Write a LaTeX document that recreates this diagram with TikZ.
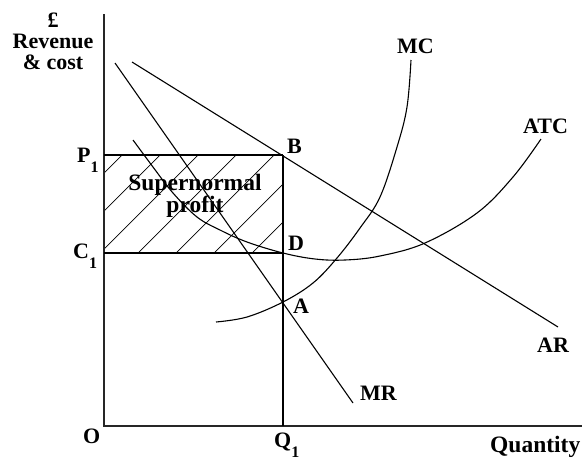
\documentclass[tikz,border=0pt]{standalone}
\usepackage{fontspec}
\setmainfont{Liberation Serif}
\usetikzlibrary{positioning}
\newcommand{\lowsub}[1]{\raisebox{-10pt}{\fontsize{16}{16}\selectfont #1}}

\begin{document}
\begin{tikzpicture}[
    x=1pt, y=-1pt,
    lbl/.style={font=\fontsize{22}{22}\selectfont\bfseries, inner sep=0pt, anchor=base west},
    ttl/.style={font=\fontsize{22}{22}\selectfont\bfseries, inner sep=0pt, anchor=base},
    wide/.style={font=\fontsize{23.5}{23.5}\selectfont\bfseries},
    axis/.style={line width=1.6pt, black!85},
    guide/.style={line width=1.3pt},
    curve/.style={line width=1.1pt},
    hatch/.style={line width=0.7pt},
]
    \useasboundingbox (0,0) rectangle (582,459);

    % Key points
    \coordinate (O) at (104,426);
    \coordinate (ytop) at (104,14);
    \coordinate (xend) at (582,426);
    \coordinate (P1) at (104,155);
    \coordinate (C1) at (104,253);
    \coordinate (B) at (283,155);
    \coordinate (D) at (283,253);
    \coordinate (Q1) at (283,426);

    % Supernormal profit hatching
    \begin{scope}
        \clip (P1) rectangle (D);
        \foreach \c in {277,315,...,505}
            \draw[hatch] ({\c-140},140) -- ({\c-270},270);
    \end{scope}

    % Axes
    \draw[axis] (ytop) -- (O) -- (xend);

    % Price, cost and output lines
    \draw[guide] (P1) -- (B);
    \draw[guide] (C1) -- (D);
    \draw[guide] (B) -- (Q1);

    % AR and MR
    \coordinate (ARstart) at (132,62);
    \coordinate (ARend) at (558,327);
    \coordinate (MRstart) at (115,63);
    \coordinate (MRend) at (353,403);
    \draw[curve] (ARstart) -- (ARend);
    \draw[curve] (MRstart) -- (MRend);

    % MC
    \draw[curve] plot[smooth, tension=0.6] coordinates {(216,322) (247,317) (283,302) (313,283) (337,258) (360,228) (380,197) (397,147) (407,107) (411,60)};

    % ATC
    \draw[curve] plot[smooth, tension=0.6] coordinates {(133,140) (153,167) (173,193) (197,217) (220,230) (247,242) (283,253) (315,259) (345,260) (380,256) (425,243) (477,213) (513,177) (541,139)};

    % Axis titles
    \node[ttl] (pound) at (53,27) {£};
    \node[ttl] (revenue) at (53,48) {Revenue};
    \node[ttl] (cost) at (53,69) {\& cost};
    \node[lbl, wide] (quantity) at (490,452) {Quantity};

    % Axis labels
    \node[lbl] (olbl) at (83,443) {O};
    \node[lbl] (p1lbl) at (77,162) {P\lowsub{1}};
    \node[lbl] (c1lbl) at (73,258) {C\lowsub{1}};
    \node[lbl] (q1lbl) at (274,447) {Q\lowsub{1}};

    % Point labels
    \node[lbl] (blbl) at (287,153) {B};
    \node[lbl] (dlbl) at (288,250) {D};
    \node[lbl] (albl) at (293,313) {A};

    % Curve labels
    \node[lbl] (mclbl) at (397,53) {MC};
    \node[lbl] (atclbl) at (523,133) {ATC};
    \node[lbl] (arlbl) at (537,352) {AR};
    \node[lbl] (mrlbl) at (360,400) {MR};

    % Profit area
    \node[ttl, wide] (super) at (195,190) {Supernormal};
    \node[ttl, wide] (profit) at (195,212) {profit};
\end{tikzpicture}
\end{document}
